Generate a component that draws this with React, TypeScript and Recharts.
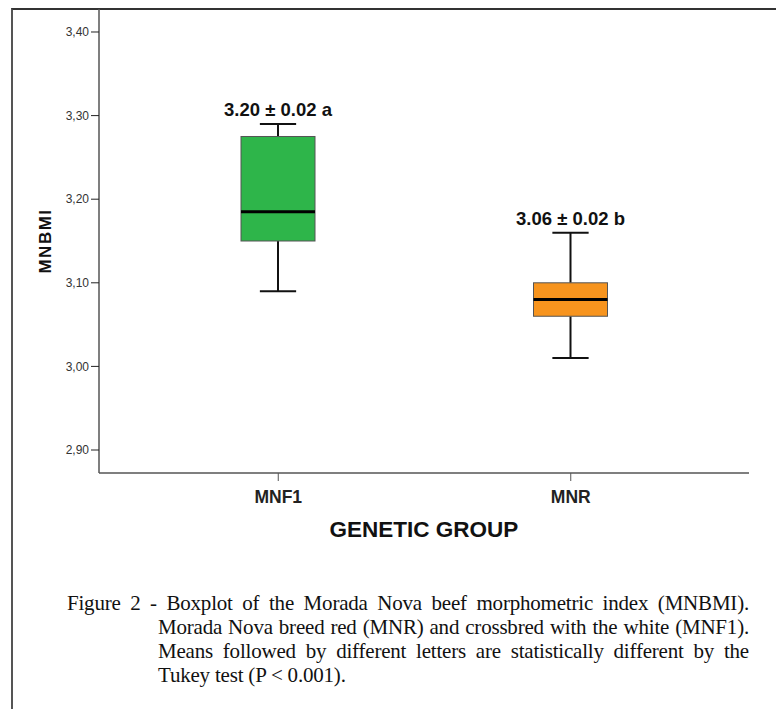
import { ComposedChart, Bar, XAxis, YAxis, ReferenceArea } from "recharts";

const groups = ["MNF1", "MNR"];
const minValues = [3.09, 3.01];
const q1Values = [3.15, 3.06];
const medianValues = [3.185, 3.08];
const q3Values = [3.275, 3.1];
const maxValues = [3.29, 3.16];
const meanLabels = ["3.20 ± 0.02 a", "3.06 ± 0.02 b"];
const boxColors = ["#2eb54a", "#f7941e"];
const yTicks = [2.9, 3.0, 3.1, 3.2, 3.3, 3.4];

const rows = groups.map((g, i) => ({
  group: g,
  min: minValues[i],
  q1: q1Values[i],
  median: medianValues[i],
  q3: q3Values[i],
  max: maxValues[i],
  label: meanLabels[i],
  color: boxColors[i],
}));

// whole box drawn from the [min, max] range bar
const BoxShape = (props: any) => {
  const { x, y, width, height, payload } = props;
  const { min, q1, median, q3, max, label, color } = payload;
  const py = (v: number) => y + ((max - v) / (max - min)) * height;
  const cx = x + width / 2;
  const cap = width * 0.49;
  return (
    <g>
      <line x1={cx} x2={cx} y1={py(max)} y2={py(q3)} stroke="#111" strokeWidth={2} />
      <line x1={cx} x2={cx} y1={py(q1)} y2={py(min)} stroke="#111" strokeWidth={2} />
      <line x1={cx - cap / 2} x2={cx + cap / 2} y1={py(max)} y2={py(max)} stroke="#111" strokeWidth={2} />
      <line x1={cx - cap / 2} x2={cx + cap / 2} y1={py(min)} y2={py(min)} stroke="#111" strokeWidth={2} />
      <rect x={x} y={py(q3)} width={width} height={py(q1) - py(q3)} fill={color} stroke="#555" strokeWidth={1} />
      <line x1={x} x2={x + width} y1={py(median)} y2={py(median)} stroke="#000" strokeWidth={3} />
      <text
        x={cx}
        y={py(max) - 8}
        textAnchor="middle"
        fontFamily="Liberation Sans, Arial, sans-serif"
        fontWeight="bold"
        fontSize={18.5}
        fill="#111"
      >
        {label}
      </text>
    </g>
  );
};

const captionLines = [
  "Figure 2 - Boxplot of the Morada Nova beef morphometric index (MNBMI).",
  "Morada Nova breed red (MNR) and crossbred with the white (MNF1).",
  "Means followed by different letters are statistically different by the",
  "Tukey test (P < 0.001).",
];

const App = () => {
  return (
    <div
      style={{
        position: "absolute",
        left: 0,
        top: 0,
        width: "776px",
        height: "709px",
        background: "#fff",
        overflow: "hidden",
      }}
    >
      <div
        style={{
          position: "absolute",
          left: "11px",
          top: "8px",
          width: "770px",
          height: "710px",
          borderLeft: "2px solid #555",
          borderTop: "2px solid #333",
        }}
      />
      <div style={{ position: "absolute", left: 0, top: 0 }}>
        <ComposedChart
          width={776}
          height={560}
          data={rows}
          margin={{ top: 9, right: 27, bottom: 17, left: 39 }}
        >
          <XAxis
            dataKey="group"
            type="category"
            padding={{ left: 33, right: 32 }}
            height={70}
            axisLine={{ stroke: "#555", strokeWidth: 1.5 }}
            tickLine={{ stroke: "#555" }}
            tickSize={8}
            tickMargin={10}
            tick={{
              fontSize: 17.5,
              fontWeight: "bold",
              fill: "#222",
              fontFamily: "Liberation Sans, Arial, sans-serif",
            }}
            label={{
              value: "GENETIC GROUP",
              position: "insideBottom",
              offset: 6,
              style: {
                fontSize: 22.5,
                fontWeight: "bold",
                fill: "#111",
                fontFamily: "Liberation Sans, Arial, sans-serif",
              },
            }}
          />
          <YAxis
            type="number"
            domain={[2.8725, 3.4275]}
            ticks={yTicks}
            width={60}
            allowDataOverflow
            tickFormatter={(v: number) => v.toFixed(2).replace(".", ",")}
            axisLine={{ stroke: "#555", strokeWidth: 1.5 }}
            tickLine={{ stroke: "#222" }}
            tickSize={8}
            tick={{
              fontSize: 12,
              fill: "#333",
              fontFamily: "Liberation Sans, Arial, sans-serif",
            }}
            label={{
              value: "MNBMI",
              angle: -90,
              position: "insideLeft",
              offset: 6,
              style: {
                textAnchor: "middle",
                fontSize: 17,
                letterSpacing: 1.5,
                fontWeight: "bold",
                fill: "#111",
                fontFamily: "Liberation Sans, Arial, sans-serif",
              },
            }}
          />
          <ReferenceArea fill="none" stroke="#555" strokeWidth={1.5} ifOverflow="visible" />
          <Bar
            dataKey={(d: any) => [d.min, d.max]}
            barSize={74}
            shape={BoxShape}
            isAnimationActive={false}
          />
        </ComposedChart>
      </div>
      <div
        style={{
          position: "absolute",
          left: "67px",
          top: "591px",
          width: "682px",
          fontFamily: "Liberation Serif, Times New Roman, serif",
          fontSize: "21px",
          lineHeight: "24px",
          color: "#111",
        }}
      >
        {captionLines.map((line, i) => (
          <div
            key={i}
            style={{
              whiteSpace: "nowrap",
              paddingLeft: i === 0 ? 0 : "91px",
              textAlign: "justify",
              textAlignLast: i < captionLines.length - 1 ? "justify" : "left",
              letterSpacing: "-0.2px",
            }}
          >
            {line}
          </div>
        ))}
      </div>
    </div>
  );
};

export default App;
